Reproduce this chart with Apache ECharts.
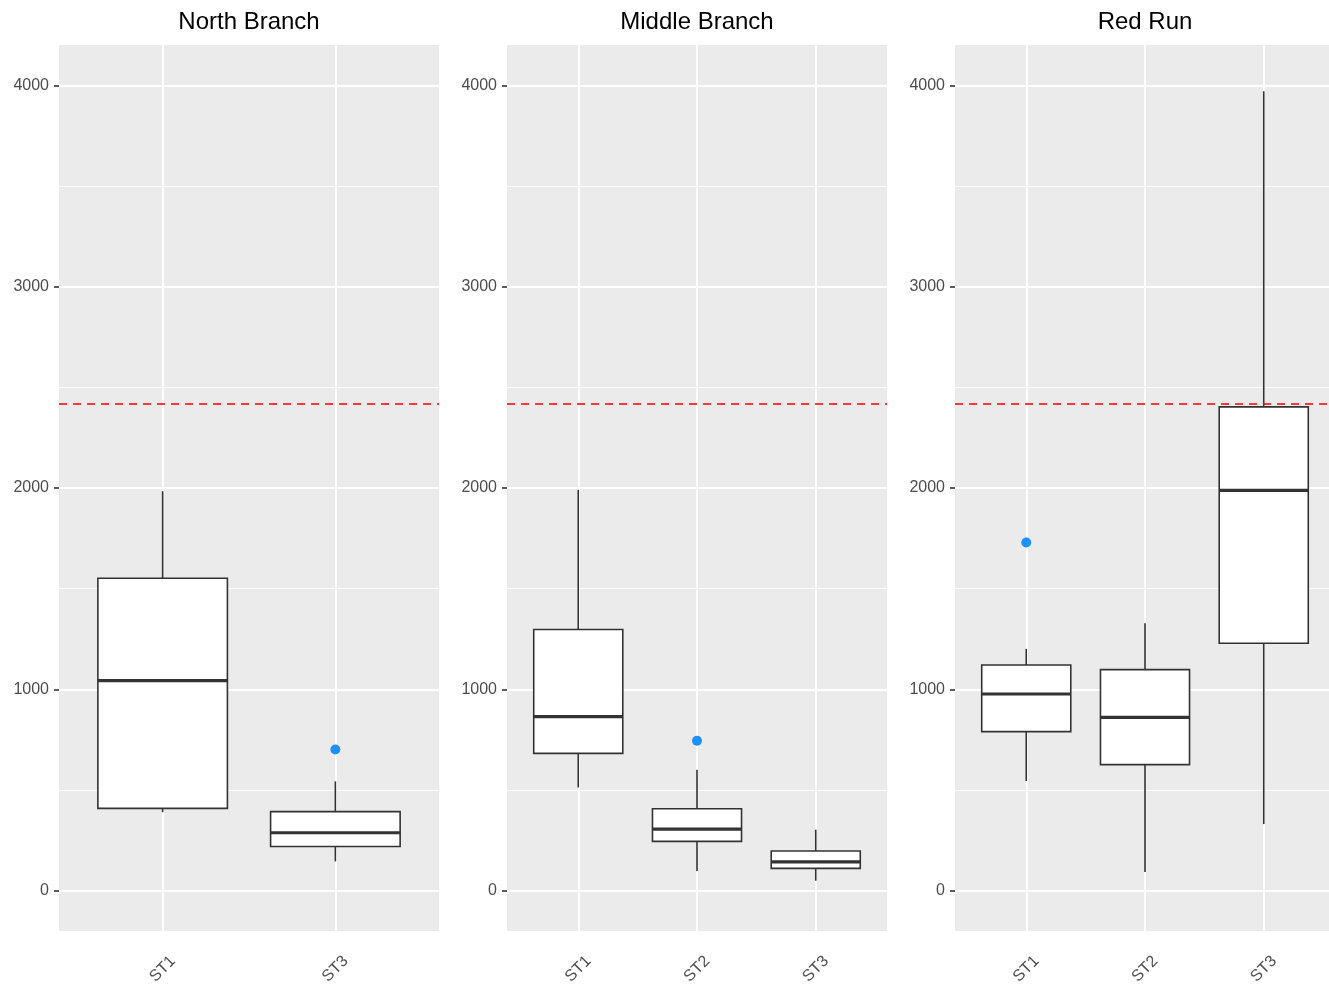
<!DOCTYPE html>
<html>
<head>
<meta charset="utf-8">
<script src="https://cdn.jsdelivr.net/npm/echarts@6/dist/echarts.min.js"></script>
<style>
  html, body { margin: 0; padding: 0; background: #ffffff; }
  #chart { width: 1329px; height: 985px; }
</style>
</head>
<body>
<div id="chart"></div>
<script>
// Facet titles and the stations shown in each facet
const panelTitles = ['North Branch', 'Middle Branch', 'Red Run'];
const northStations = ['ST1', 'ST3'];
const middleStations = ['ST1', 'ST2', 'ST3'];
const redStations = ['ST1', 'ST2', 'ST3'];

// Box statistics per station: [lower whisker, Q1, median, Q3, upper whisker]
const northStats = [[390, 409, 1043, 1552, 1984], [146, 220, 288, 393, 543]];
const middleStats = [[513, 682, 865, 1297, 1991], [98, 245, 306, 407, 601], [50, 111, 143, 197, 303]];
const redStats = [[545, 790, 977, 1121, 1201], [93, 626, 861, 1098, 1328], [331, 1229, 1988, 2403, 3970]];

// Outlying observations: [station position (1-based), value]
const northOutliers = [[2, 701]];
const middleOutliers = [[2, 745]];
const redOutliers = [[1, 1729]];

// Reference level drawn as a dashed line in every facet
const thresholdValue = 2420;

// Axis ticks
const yTickValues = [0, 1000, 2000, 3000, 4000];
const yMinorValues = [500, 1500, 2500, 3500];

const panels = [
  { title: panelTitles[0], stations: northStations, stats: northStats, outliers: northOutliers, left: 59 },
  { title: panelTitles[1], stations: middleStations, stats: middleStats, outliers: middleOutliers, left: 507 },
  { title: panelTitles[2], stations: redStations, stats: redStats, outliers: redOutliers, left: 955 }
];

const PANEL_W = 380, PANEL_TOP = 45, PANEL_H = 886;
const FONT = '"Liberation Sans", Arial, sans-serif';

function renderBox(params, api) {
  const x = api.value(0);
  const lo = api.coord([x, api.value(1)]);
  const q1 = api.coord([x, api.value(2)]);
  const med = api.coord([x, api.value(3)]);
  const q3 = api.coord([x, api.value(4)]);
  const hi = api.coord([x, api.value(5)]);
  const w = api.size([0.75, 0])[0];
  const cx = lo[0];
  const lineStyle = { stroke: '#333333', lineWidth: 1.6, fill: null };
  return {
    type: 'group',
    children: [
      { type: 'line', shape: { x1: cx, y1: hi[1], x2: cx, y2: q3[1] }, style: lineStyle },
      { type: 'line', shape: { x1: cx, y1: q1[1], x2: cx, y2: lo[1] }, style: lineStyle },
      { type: 'rect', shape: { x: cx - w / 2, y: q3[1], width: w, height: q1[1] - q3[1] },
        style: { fill: '#ffffff', stroke: '#333333', lineWidth: 1.6 } },
      { type: 'line', shape: { x1: cx - w / 2, y1: med[1], x2: cx + w / 2, y2: med[1] },
        style: { stroke: '#333333', lineWidth: 3.2 } }
    ]
  };
}

const grids = [], xAxes = [], yAxes = [], series = [], titles = [];

panels.forEach((p, i) => {
  const n = p.stations.length;
  const positions = p.stations.map((_, k) => k + 1);

  grids.push({ left: p.left, top: PANEL_TOP, width: PANEL_W, height: PANEL_H,
    outerBoundsMode: 'none', containLabel: false,
    show: true, backgroundColor: '#EBEBEB', borderWidth: 0 });

  titles.push({ text: p.title, left: p.left + PANEL_W / 2, top: 10, padding: 0, textAlign: 'center',
    textStyle: { fontFamily: FONT, fontSize: 24, fontWeight: 'normal', color: '#000000' } });

  xAxes.push({
    type: 'value', gridIndex: i, min: 0.4, max: n + 0.6,
    axisLine: { show: false },
    splitLine: { show: false },
    axisTick: { show: true, customValues: positions, length: 5, lineStyle: { color: '#333333', width: 1.6 } },
    axisLabel: {
      customValues: positions,
      formatter: v => p.stations[Math.round(v) - 1] || '',
      rotate: 45, align: 'center', verticalAlign: 'middle', margin: 38,
      fontFamily: FONT, fontSize: 16, color: '#4D4D4D'
    }
  });

  yAxes.push({
    type: 'value', gridIndex: i, min: -200, max: 4200,
    axisLine: { show: false },
    splitLine: { show: false },
    axisTick: { show: true, customValues: yTickValues, length: 5, lineStyle: { color: '#333333', width: 1.6 } },
    axisLabel: { customValues: yTickValues, formatter: v => String(v), margin: 10,
      fontFamily: FONT, fontSize: 16, color: '#4D4D4D' }
  });

  // panel grid lines
  const gridLines = [];
  yTickValues.forEach(v => gridLines.push({ yAxis: v, lineStyle: { width: 2 } }));
  yMinorValues.forEach(v => gridLines.push({ yAxis: v, lineStyle: { width: 1 } }));
  positions.forEach(v => gridLines.push({ xAxis: v, lineStyle: { width: 2 } }));
  series.push({
    type: 'line', xAxisIndex: i, yAxisIndex: i, data: [], silent: true, z: 1,
    markLine: { silent: true, z: 1, symbol: 'none', animation: false, label: { show: false },
      lineStyle: { color: '#FFFFFF', type: 'solid' }, data: gridLines }
  });

  // boxes
  series.push({
    type: 'custom', xAxisIndex: i, yAxisIndex: i, z: 3, silent: true,
    renderItem: renderBox,
    encode: { x: 0, y: [1, 2, 3, 4, 5] },
    data: p.stats.map((s, k) => [k + 1].concat(s))
  });

  // outliers
  series.push({
    type: 'scatter', xAxisIndex: i, yAxisIndex: i, z: 4, silent: true,
    symbolSize: 10, itemStyle: { color: '#1E90FF', opacity: 1 },
    data: p.outliers
  });

  // threshold
  series.push({
    type: 'line', xAxisIndex: i, yAxisIndex: i, data: [], silent: true, z: 6,
    markLine: { silent: true, z: 8, symbol: 'none', animation: false, label: { show: false },
      lineStyle: { color: '#FF0000', type: [8, 6], width: 1.5 },
      data: [{ yAxis: thresholdValue }] }
  });
});

const chart = echarts.init(document.getElementById('chart'), null, { renderer: 'canvas' });
chart.setOption({
  animation: false,
  backgroundColor: '#FFFFFF',
  title: titles,
  grid: grids,
  xAxis: xAxes,
  yAxis: yAxes,
  series: series
});
</script>
</body>
</html>
